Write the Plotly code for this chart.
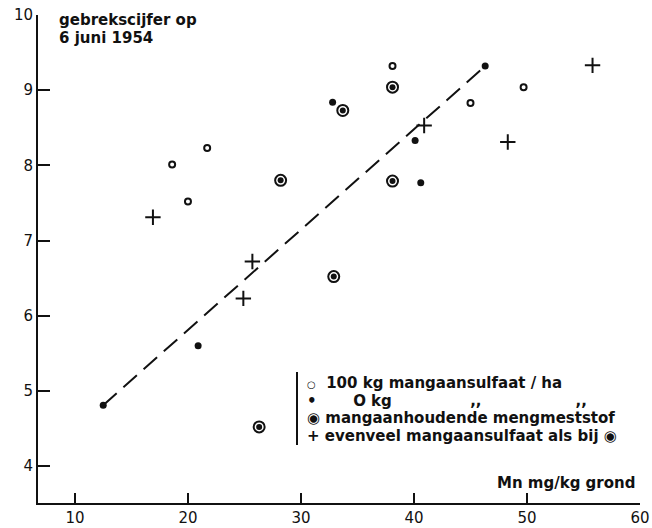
import plotly.graph_objects as go

# ---- data ----
open_x = [18.6, 20.0, 21.7, 38.1, 45.0, 49.7]          # 100 kg mangaansulfaat/ha
open_y = [8.01, 7.52, 8.23, 9.32, 8.83, 9.04]
dot_x = [12.5, 20.9, 32.8, 40.1, 40.6, 46.3]           # 0 kg
dot_y = [4.81, 5.60, 8.84, 8.33, 7.77, 9.32]
ring_x = [26.3, 28.2, 32.9, 33.7, 38.1, 38.1]          # mangaanhoudende mengmeststof
ring_y = [4.52, 7.80, 6.52, 8.73, 9.04, 7.79]
plus_x = [16.9, 24.9, 25.7, 40.9, 48.3, 55.8]          # evenveel mangaansulfaat als bij ◉
plus_y = [7.31, 6.23, 6.72, 8.53, 8.31, 9.33]
line_x = [12.5, 46.3]                                   # dashed trend line
line_y = [4.81, 9.32]

x_ticks = [10, 20, 30, 40, 50, 60]
y_ticks = [4, 5, 6, 7, 8, 9, 10]
y_title_lines = ["gebrekscijfer op", "6 juni 1954"]
x_title = "Mn mg/kg grond"
legend_texts = ["100 kg mangaansulfaat / ha", "O kg", "mangaanhoudende mengmeststof",
                "evenveel mangaansulfaat als bij ◉"]
legend_syms = ["○", "•", "◉", "+"]
ditto = ",,"

FONT = "DejaVu Sans"
INK = "#111111"
NB = "\u00a0"

fig = go.Figure()
fig.add_trace(go.Scatter(x=line_x, y=line_y, mode="lines",
                         line=dict(color=INK, width=2, dash="18px,9px"), hoverinfo="skip"))
fig.add_trace(go.Scatter(x=open_x, y=open_y, mode="markers",
                         marker=dict(symbol="circle-open", size=6, color=INK, line=dict(width=2, color=INK))))
fig.add_trace(go.Scatter(x=dot_x, y=dot_y, mode="markers",
                         marker=dict(symbol="circle", size=7, color=INK)))
fig.add_trace(go.Scatter(x=ring_x, y=ring_y, mode="markers",
                         marker=dict(symbol="circle-open", size=11, color=INK, line=dict(width=2, color=INK))))
fig.add_trace(go.Scatter(x=ring_x, y=ring_y, mode="markers",
                         marker=dict(symbol="circle", size=6, color=INK)))
fig.add_trace(go.Scatter(x=plus_x, y=plus_y, mode="markers",
                         marker=dict(symbol="cross-thin", size=11, color=INK, line=dict(width=2, color=INK))))

L, R, T, B = 38, 12, 15, 25
W, H = 652, 528
PW, PH = W - L - R, H - T - B


def px(xp):
    return (xp - L) / PW


def py(yp):
    return (H - B - yp) / PH


def big(s, size=15):
    return "<span style='font-size:%dpx'>%s</span>" % (size, s)


ann = []
ann.append(dict(text="<br>".join(big(t) for t in y_title_lines), x=px(57), y=py(9),
                xref="paper", yref="paper", xanchor="left", yanchor="top", align="left",
                showarrow=False, font=dict(family=FONT, size=13.5, color=INK, weight="bold")))
ann.append(dict(text=x_title, x=px(637), y=py(483), xref="paper", yref="paper",
                xanchor="right", yanchor="middle", showarrow=False,
                font=dict(family=FONT, size=15, color=INK, weight="bold")))

leg_lines = [
    big(legend_syms[0], 10) + big(NB * 2 + legend_texts[0]),
    big(legend_syms[1] + NB * 7 + legend_texts[1] + NB * 15 + ditto + NB * 18 + ditto),
    big(legend_syms[2] + " " + legend_texts[2]),
    big(legend_syms[3] + " " + legend_texts[3]),
]
ann.append(dict(text="<br>".join(leg_lines), x=px(305), y=py(409), xref="paper", yref="paper",
                xanchor="left", yanchor="middle", align="left", showarrow=False,
                font=dict(family=FONT, size=13.5, color=INK, weight="bold")))

shapes = [dict(type="line", xref="paper", yref="paper", x0=px(297), x1=px(297),
               y0=py(445), y1=py(372), line=dict(color=INK, width=2))]

fig.update_layout(
    width=W, height=H, margin=dict(l=L, r=R, t=T, b=B),
    paper_bgcolor="white", plot_bgcolor="white", showlegend=False,
    annotations=ann, shapes=shapes,
    font=dict(family=FONT, size=15, color=INK),
)
fig.update_xaxes(range=[6.73, 60], tickvals=x_ticks, ticks="inside", ticklen=10, tickwidth=2,
                 tickcolor=INK, showline=True, linewidth=2, linecolor=INK, showgrid=False,
                 zeroline=False, automargin=False,
                 tickfont=dict(family=FONT, size=15, color=INK))
fig.update_yaxes(range=[3.508, 10.0], tickvals=y_ticks, ticks="inside", ticklen=12, tickwidth=2,
                 tickcolor=INK, showline=True, linewidth=2, linecolor=INK, showgrid=False,
                 zeroline=False, automargin=False,
                 tickfont=dict(family=FONT, size=15, color=INK))

fig.write_html("out.html", config={"displayModeBar": False},
               post_script="document.body.style.margin='0';document.body.style.overflow='hidden';")
